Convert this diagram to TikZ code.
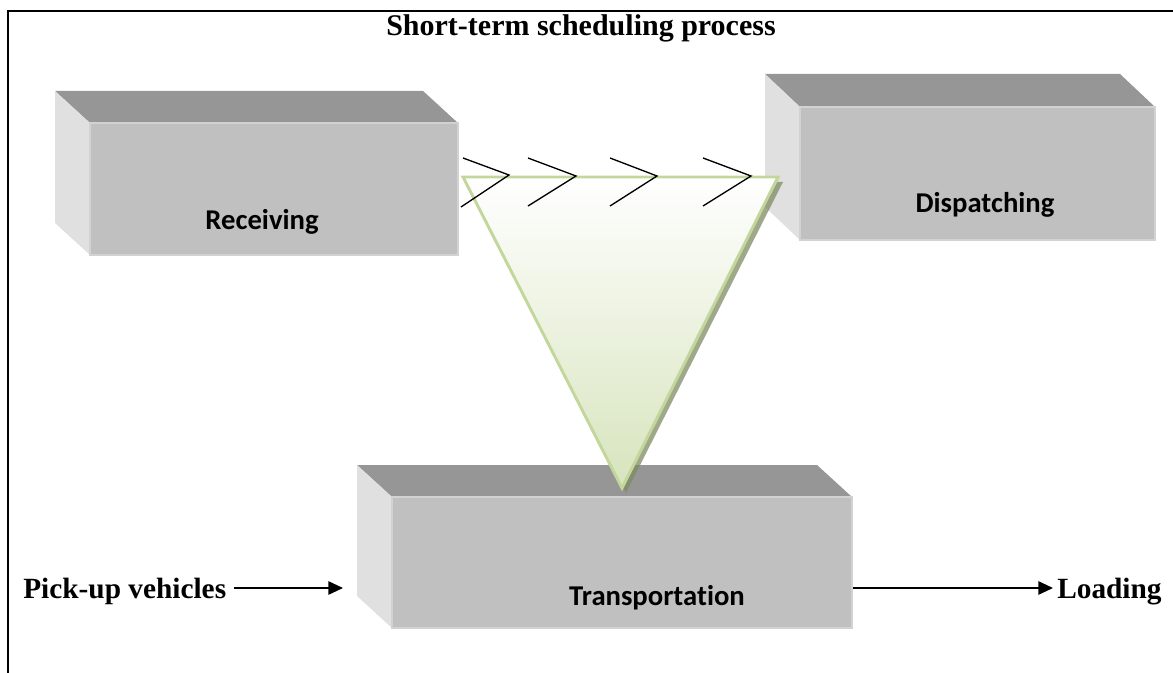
\documentclass[tikz,border=0pt]{standalone}
\usepackage{fontspec}
\setmainfont{Liberation Serif}
\newfontfamily\calibrifont[Ligatures=NoCommon]{Carlito}
\usetikzlibrary{arrows.meta}
\definecolor{boxtop}{HTML}{969696}
\definecolor{boxfront}{HTML}{C0C0C0}
\definecolor{boxside}{HTML}{E0E0E0}
\definecolor{boxedge}{HTML}{D2D2D2}
\definecolor{triedge}{HTML}{C3D69B}
\definecolor{trifill}{HTML}{D7E4BD}
\definecolor{trishadow}{HTML}{7F8C63}
\newcommand\mycube[7]{%
  \coordinate (#1-nw) at (#2,#3);
  \coordinate (#1-se) at (#4,#5);
  \fill[topface] (#2-#6,#3-#7) -- (#4-#6,#3-#7) -- (#4,#3) -- (#2,#3) -- cycle;
  \fill[sideface] (#2-#6,#3-#7) -- (#2,#3) -- (#2,#5) -- (#2-#6,#5-#7) -- cycle;
  \filldraw[frontface] (#2,#3) rectangle (#4,#5);
}
\begin{document}
\begin{tikzpicture}[x=0.75pt,y=-0.75pt,
  topface/.style={fill=boxtop},
  sideface/.style={fill=boxside},
  frontface/.style={fill=boxfront, draw=boxedge, line width=0.8pt},
  boxlabel/.style={font=\calibrifont\bfseries\fontsize{21.5}{24}\selectfont, text=black, inner sep=0pt},
  serlabel/.style={font=\bfseries\fontsize{22}{26}\selectfont, text=black},
  chev/.style={draw=black, line width=1pt},
  flow/.style={-{Triangle[length=11pt,width=10pt]}, line width=1.3pt},
  frame/.style={line width=1.5pt}
]
\useasboundingbox (0,0) rectangle (1173,673);
% frame
\draw[frame] (8,673) -- (8,11) -- (1173,11);
% title
\node[serlabel, font=\bfseries\fontsize{22.5}{26}\selectfont, anchor=base, inner sep=0pt] (title) at (581,36) {Short-term scheduling process};
% boxes
\mycube{recv}{90}{123}{458}{255}{35}{32}
\mycube{disp}{800}{107}{1155}{240}{35}{33}
\mycube{trans}{392}{497}{852}{628}{35}{32}
\node[boxlabel, anchor=base] (recvlabel) at (262,230) {Receiving};
\node[boxlabel, anchor=base] (displabel) at (985,213) {Dispatching};
\node[boxlabel, anchor=base] (translabel) at (657,605) {Transportation};
% triangle
\fill[trishadow, opacity=0.75] (468,182) -- (783,182) -- (626,493) -- cycle;
\shade[top color=white, bottom color=trifill] (463,177) -- (778,177) -- (622,488) -- cycle;
\draw[triedge, line width=2.2pt, line join=miter] (463,177) -- (778,177) -- (622,488) -- cycle;
% chevrons
\draw[chev] (463,158) -- (509,175) -- (461,207);
\draw[chev] (528,158) -- (576,176) -- (528,206);
\draw[chev] (610,158) -- (657,176) -- (610,206);
\draw[chev] (703,158) -- (751,176) -- (703,206);
% side labels and arrows
\node[serlabel, anchor=base west, inner sep=0pt] (pick) at (23,598) {Pick-up vehicles};
\node[serlabel, anchor=base west, inner sep=0pt] (load) at (1057,598) {Loading};
\coordinate (transin) at (343,588);
\coordinate (transout) at (853,588);
\draw[flow] ([xshift=6pt]pick.east |- transin) -- (transin);
\draw[flow] (transout) -- ([xshift=-3pt]load.west |- transout);
\end{tikzpicture}
\end{document}
